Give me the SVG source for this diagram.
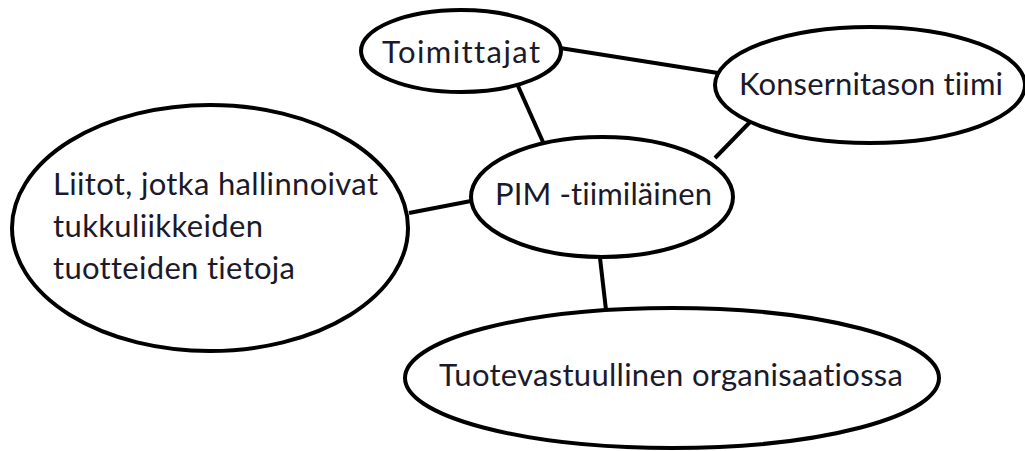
<svg xmlns="http://www.w3.org/2000/svg" width="1025" height="451" viewBox="0 0 1025 451">
<style>
.n{fill:#fff;stroke:#000;stroke-width:4}
.c line{stroke:#000;stroke-width:4}
text{font-family:Lato,"Open Sans","Liberation Sans",sans-serif;font-size:31px;fill:#1a1a2a;font-variant-ligatures:none}
</style>
<rect width="1025" height="451" fill="#fff"/>
<g class="c" id="connectors">
<line x1="560" y1="48" x2="718" y2="73"/>
<line x1="518" y1="86" x2="543" y2="142"/>
<line x1="751" y1="121" x2="715" y2="158"/>
<line x1="409" y1="213" x2="471" y2="201"/>
<line x1="600" y1="258" x2="606" y2="310"/>
</g>
<g id="toimittajat">
<ellipse class="n" cx="461" cy="51" rx="100" ry="41"/>
<text x="382" y="63" textLength="158">Toimittajat</text>
</g>
<g id="konsernitason">
<ellipse class="n" cx="870" cy="85" rx="155" ry="58"/>
<text x="739" y="95" textLength="264">Konsernitason tiimi</text>
</g>
<g id="pim">
<ellipse class="n" cx="602" cy="197" rx="131" ry="60"/>
<text x="495" y="205" textLength="217">PIM -tiimiläinen</text>
</g>
<g id="liitot">
<ellipse class="n" cx="210" cy="228" rx="198" ry="123"/>
<text x="53" y="195" textLength="325">Liitot, jotka hallinnoivat</text>
<text x="53" y="237" textLength="210">tukkuliikkeiden</text>
<text x="53" y="279" textLength="242">tuotteiden tietoja</text>
</g>
<g id="tuotevastuullinen">
<ellipse class="n" cx="672" cy="378" rx="267" ry="70"/>
<text x="439" y="386" textLength="464">Tuotevastuullinen organisaatiossa</text>
</g>
</svg>
